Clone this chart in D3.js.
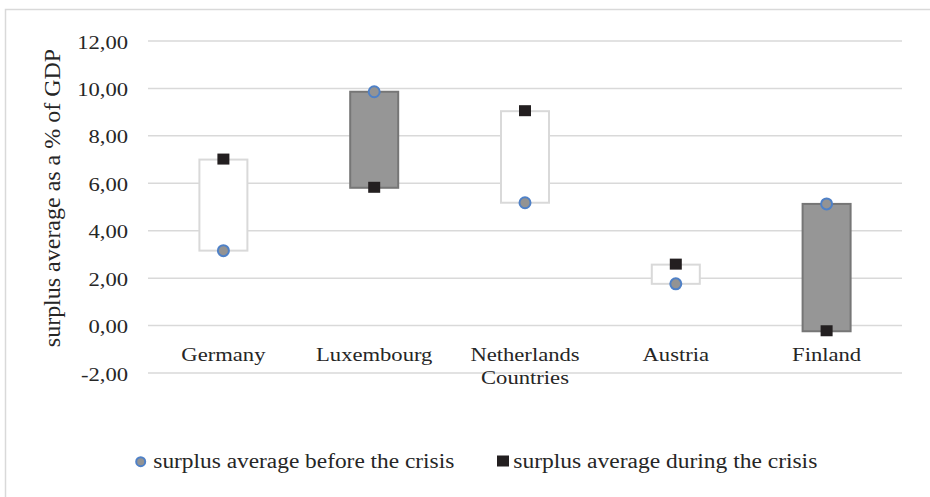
<!DOCTYPE html>
<html>
<head>
<meta charset="utf-8">
<script src="https://cdn.jsdelivr.net/npm/d3@7/dist/d3.min.js"></script>
<style>
  html, body { margin: 0; padding: 0; background: #ffffff; }
  svg { display: block; }
  text { font-family: "Liberation Serif", "Times New Roman", serif; fill: #262626; }
</style>
</head>
<body>
<svg id="chart" width="930" height="497"></svg>
<script>
// Surplus averages (% of GDP) per country
const categories = ["Germany", "Luxembourg", "Netherlands", "Austria", "Finland"];
const beforeCrisis = [3.16, 9.86, 5.18, 1.76, 5.13];
const duringCrisis = [7.00, 5.81, 9.04, 2.57, -0.24];
const yTicks = [-2, 0, 2, 4, 6, 8, 10, 12];
const seriesNames = ["surplus average before the crisis", "surplus average during the crisis"];
const yTitle = "surplus average as a % of GDP";
const xTitle = "Countries";

const svg = d3.select("#chart");
const stretch = 1.19;   // horizontal widening of the serif glyphs

const x = d3.scaleBand().domain(categories).range([148, 902]).padding(0);
const y = d3.scaleLinear().domain([-2, 12]).range([373, 41]);

const fmt = d3.formatLocale({ decimal: ",", thousands: ".", grouping: [3], currency: ["", ""], minus: "-" }).format(".2f");

// outer frame
svg.append("rect")
  .attr("x", 5.5).attr("y", 9.5).attr("width", 940).attr("height", 520)
  .attr("fill", "none").attr("stroke", "#d9d9d9").attr("stroke-width", 1.5);

// horizontal gridlines
svg.append("g").selectAll("line").data(yTicks).join("line")
  .attr("x1", x.range()[0]).attr("x2", x.range()[1])
  .attr("y1", d => y(d)).attr("y2", d => y(d))
  .attr("stroke", "#d9d9d9").attr("stroke-width", 1.5);

// y axis labels
const yAxis = svg.append("g").attr("transform", "translate(128,0)")
  .call(d3.axisLeft(y).tickValues(yTicks).tickFormat(fmt).tickSize(0).tickPadding(0));
yAxis.select(".domain").remove();
yAxis.selectAll("text")
  .attr("x", 0).attr("dy", 7)
  .attr("text-anchor", "end")
  .attr("transform", `scale(${stretch},1)`)
  .style("font-size", "19px").style("font-family", "Liberation Serif, serif").attr("fill", "#262626");

// category labels
const xAxis = svg.append("g").attr("transform", "translate(0,361)")
  .call(d3.axisBottom(x).tickSize(0).tickPadding(0));
xAxis.select(".domain").remove();
xAxis.selectAll("text")
  .attr("y", 0).attr("dy", 0)
  .attr("transform", `scale(${stretch},1)`)
  .style("font-size", "19px").style("font-family", "Liberation Serif, serif").attr("fill", "#262626");

// x axis title
svg.append("text")
  .attr("transform", `translate(${x("Netherlands") + x.bandwidth() / 2},384) scale(${stretch},1)`)
  .attr("text-anchor", "middle").style("font-size", "19px")
  .text(xTitle);

// y axis title
svg.append("text")
  .attr("transform", "translate(60,198) rotate(-90) scale(1,0.95)")
  .attr("text-anchor", "middle").style("font-size", "24px")
  .text(yTitle);

// up/down bars between the two series
const rows = categories.map((c, i) => ({ c, before: beforeCrisis[i], during: duringCrisis[i] }));
const boxW = 48;
svg.append("g").selectAll("rect").data(rows).join("rect")
  .attr("x", d => x(d.c) + x.bandwidth() / 2 - boxW / 2)
  .attr("width", boxW)
  .attr("y", d => y(Math.max(d.before, d.during)))
  .attr("height", d => Math.abs(y(d.before) - y(d.during)))
  .attr("fill", d => d.during >= d.before ? "#ffffff" : "#969696")
  .attr("stroke", d => d.during >= d.before ? "#d9d9d9" : "#767676")
  .attr("stroke-width", 2);

// "before" markers: grey circles with blue outline
svg.append("g").selectAll("circle").data(rows).join("circle")
  .attr("cx", d => x(d.c) + x.bandwidth() / 2)
  .attr("cy", d => y(d.before))
  .attr("r", 5.5)
  .attr("fill", "#939393").attr("stroke", "#4f81c7").attr("stroke-width", 2);

// "during" markers: black squares
const sq = 12;
svg.append("g").selectAll("rect").data(rows).join("rect")
  .attr("x", d => x(d.c) + x.bandwidth() / 2 - sq / 2)
  .attr("y", d => y(d.during) - sq / 2)
  .attr("width", sq).attr("height", sq - 1)
  .attr("fill", "#231f20");

// legend
const legend = svg.append("g");
legend.append("circle").attr("cx", 140.7).attr("cy", 461.7).attr("r", 4.5)
  .attr("fill", "#939393").attr("stroke", "#4f81c7").attr("stroke-width", 2);
legend.append("text").attr("x", 153.3).attr("y", 467.5)
  .attr("textLength", 301).attr("lengthAdjust", "spacingAndGlyphs")
  .style("font-size", "20px").text(seriesNames[0]);
legend.append("rect").attr("x", 497).attr("y", 455.5).attr("width", 12).attr("height", 11)
  .attr("fill", "#231f20");
legend.append("text").attr("x", 513.3).attr("y", 467.5)
  .attr("textLength", 304).attr("lengthAdjust", "spacingAndGlyphs")
  .style("font-size", "20px").text(seriesNames[1]);
</script>
</body>
</html>
